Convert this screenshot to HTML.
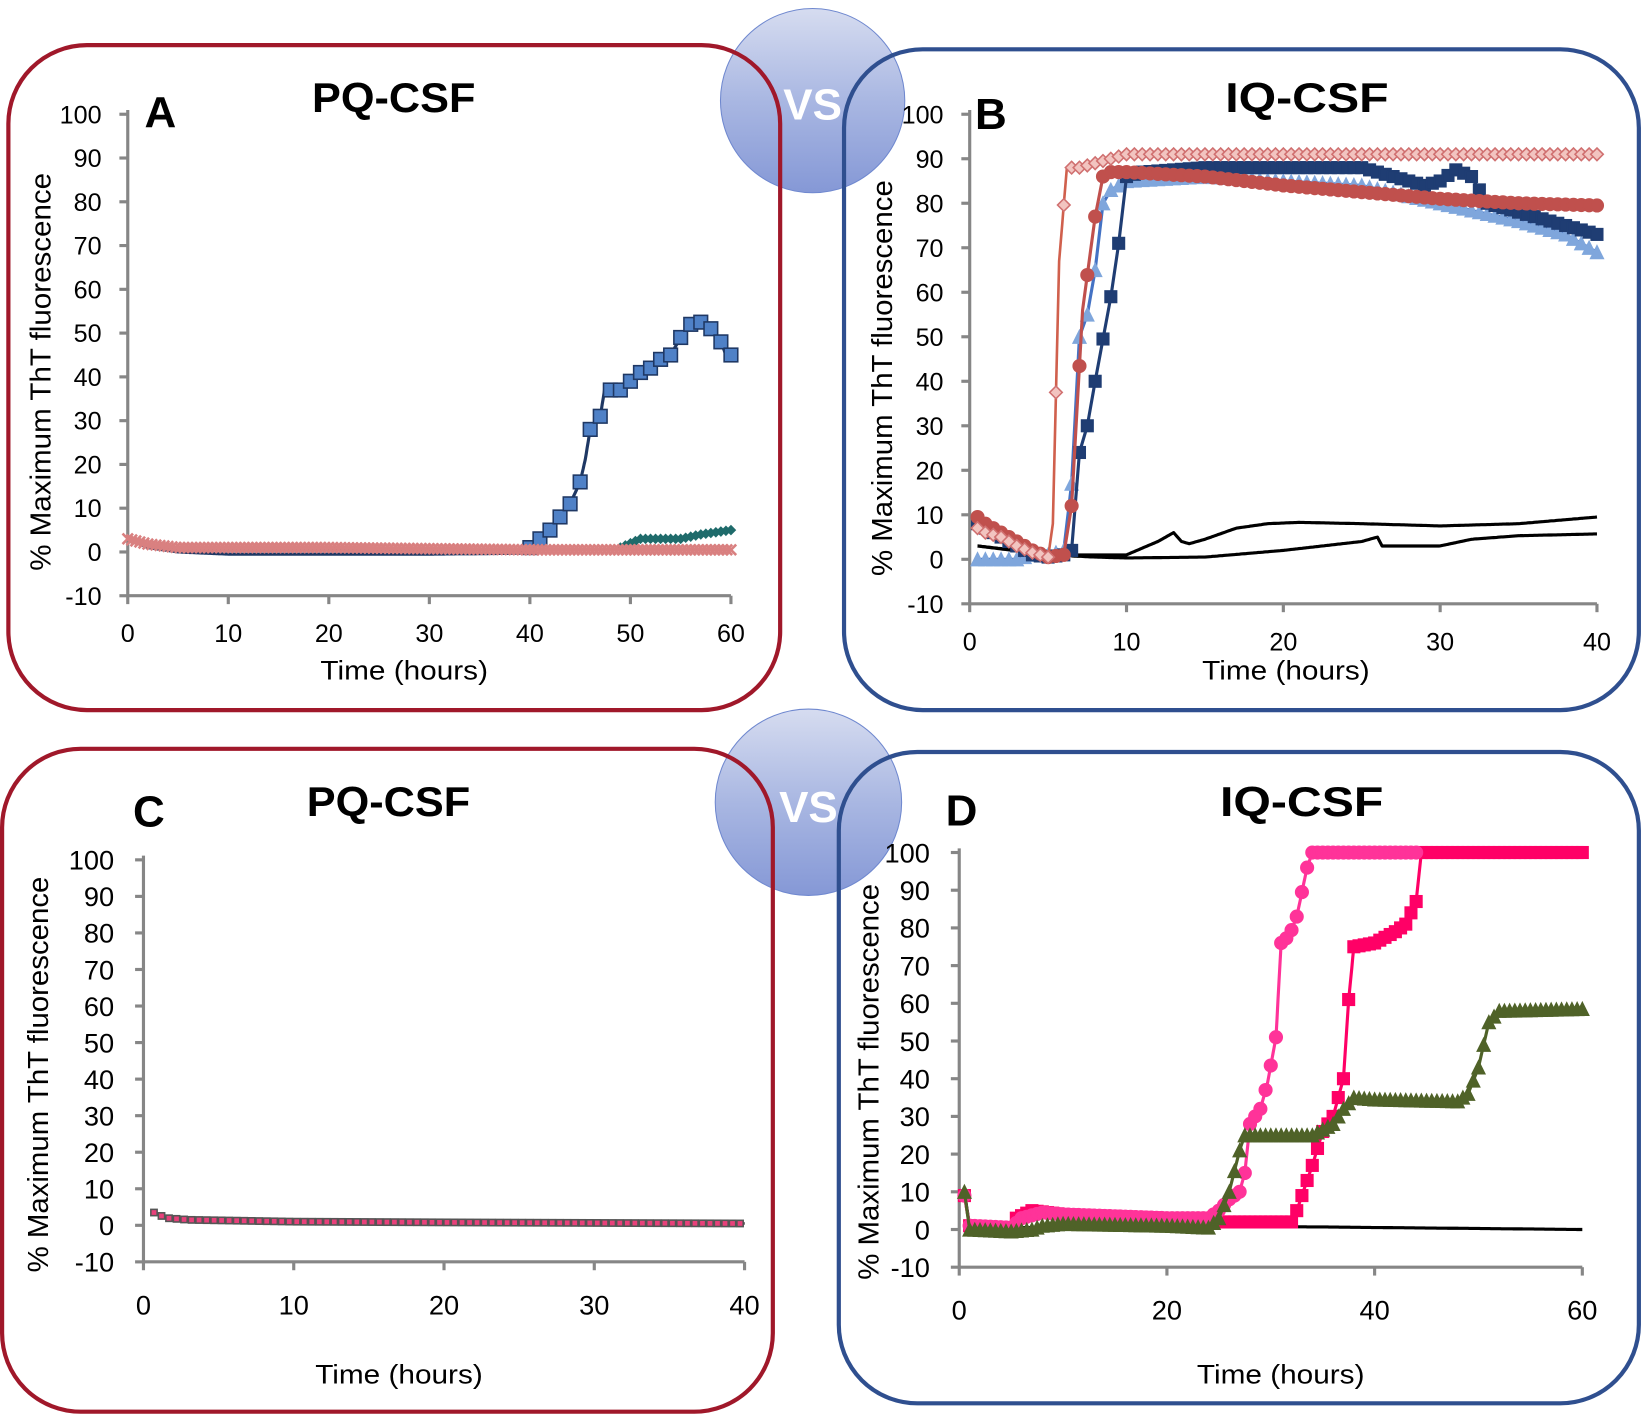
<!DOCTYPE html>
<html><head><meta charset="utf-8"><style>
html,body{margin:0;padding:0;background:#fff}
svg{display:block}
text{font-family:"Liberation Sans",sans-serif;fill:#000}
</style></head><body>
<svg id="s" width="1642" height="1416" viewBox="0 0 1568 1352" xmlns="http://www.w3.org/2000/svg">
<defs>
<linearGradient id="g" x1="0" y1="0" x2="0" y2="1">
<stop offset="0" stop-color="#d6dcf0"/><stop offset="0.5" stop-color="#a9b7e2"/><stop offset="1" stop-color="#8598d6"/></linearGradient>
</defs>
<circle cx="776" cy="96" r="88" fill="url(#g)" stroke="#6f88cf" stroke-width="1"/>
<text x="776" y="114" font-size="42" font-weight="bold" text-anchor="middle" style="fill:#fff">VS</text>
<circle cx="772" cy="766" r="89" fill="url(#g)" stroke="#6f88cf" stroke-width="1"/>
<text x="772" y="785" font-size="42" font-weight="bold" text-anchor="middle" style="fill:#fff">VS</text>
<rect x="8" y="43" width="737" height="635" rx="75" fill="none" stroke="#a0182a" stroke-width="4"/>
<rect x="806" y="47" width="759" height="631" rx="75" fill="none" stroke="#2f4f8f" stroke-width="4"/>
<rect x="2" y="715" width="736" height="633" rx="75" fill="none" stroke="#a0182a" stroke-width="4"/>
<rect x="801" y="718" width="764" height="622" rx="75" fill="none" stroke="#2f4f8f" stroke-width="4"/>
<g id="plots"></g>
</svg>
<script>
const NS="http://www.w3.org/2000/svg";
const root=document.getElementById('plots');
function el(t,a,txt){const e=document.createElementNS(NS,t);for(const k in a)e.setAttribute(k,a[k]);if(txt!==undefined)e.textContent=txt;root.appendChild(e);return e;}
function panel(p){
 const X=v=>p.x0+(v-p.xmin)/(p.xmax-p.xmin)*(p.x1-p.x0);
 const Y=v=>p.y0-(v)*(p.y0-p.y100)/100;
 p.X=X;p.Y=Y;
 el('line',{x1:p.x0,y1:p.y100-4,x2:p.x0,y2:Y(-10),stroke:'#868686','stroke-width':3});
 el('line',{x1:p.x0,y1:Y(-10),x2:p.x1,y2:Y(-10),stroke:'#868686','stroke-width':3});
 for(let v=-10;v<=100;v+=10){
  el('line',{x1:p.x0-8,y1:Y(v),x2:p.x0,y2:Y(v),stroke:'#868686','stroke-width':3});
  el('text',{x:p.x0-p.lg,y:Y(v)+p.fs*0.36,'font-size':p.fs,'text-anchor':'end'},v);
 }
 for(let v=p.xmin;v<=p.xmax;v+=p.xs){
  el('line',{x1:X(v),y1:Y(-10),x2:X(v),y2:Y(-10)+8,stroke:'#868686','stroke-width':3});
  el('text',{x:X(v),y:p.xly,'font-size':p.fs,'text-anchor':'middle'},v);
 }
 el('text',{x:p.tx-80,y:p.ty,'font-size':26,textLength:160,lengthAdjust:'spacingAndGlyphs'},'Time (hours)');
 el('text',{x:-p.yl/2,y:0,'font-size':27,textLength:p.yl,lengthAdjust:'spacingAndGlyphs',transform:`translate(${p.yx},${p.yy}) rotate(-90)`},'% Maximum ThT fluorescence');
 el('text',{x:p.lx,y:p.ly,'font-size':42,'font-weight':'bold'},p.L);
 el('text',{x:p.hx-78,y:p.hy,'font-size':40,'font-weight':'bold',textLength:156,lengthAdjust:'spacingAndGlyphs'},p.H);
}
function interp(pts,t){for(let i=0;i<pts.length-1;i++){if(t>=pts[i][0]&&t<=pts[i+1][0]){const f=(t-pts[i][0])/((pts[i+1][0]-pts[i][0])||1);return pts[i][1]+f*(pts[i+1][1]-pts[i][1]);}}return pts[pts.length-1][1];}
function series(p,pts,o){
 const st=o.step||0.5;let d='';
 const t0=pts[0][0],t1=pts[pts.length-1][0];
 for(let t=t0;t<=t1+1e-6;t+=0.1){d+=(d?'L':'M')+p.X(t).toFixed(1)+','+p.Y(interp(pts,t)).toFixed(1);}
 el('path',{d,fill:'none',stroke:o.line,'stroke-width':o.lw||3,'stroke-linejoin':'round'});
 if(!o.m)return;
 const s=o.sz||10;
 for(let t=o.ms!==undefined?o.ms:t0;t<=t1+1e-6;t+=st){
  const x=p.X(t),y=p.Y(interp(pts,t));
  const a={fill:o.fill,stroke:o.mstroke||o.fill,'stroke-width':o.msw||1.5};
  if(o.m=='sq'){a.x=x-s/2;a.y=y-s/2;a.width=s;a.height=s;el('rect',a);}
  else if(o.m=='ci'){a.cx=x;a.cy=y;a.r=s/2;el('circle',a);}
  else if(o.m=='tr'){a.points=`${x},${y-s/2} ${x-s/2},${y+s/2} ${x+s/2},${y+s/2}`;el('polygon',a);}
  else if(o.m=='di'){a.points=`${x},${y-s/2} ${x-s/2},${y} ${x},${y+s/2} ${x+s/2},${y}`;el('polygon',a);}
  else if(o.m=='x'){el('path',{d:`M${x-s/2},${y-s/2}L${x+s/2},${y+s/2}M${x-s/2},${y+s/2}L${x+s/2},${y-s/2}`,stroke:o.fill,'stroke-width':2.5});}
 }
}
// Panel A
const A={x0:122,x1:698,xmin:0,xmax:60,xs:10,y0:527,y100:109,fs:24,lg:25,xly:613,tx:386,ty:649,yx:48,yy:355,yl:380,lx:138,ly:121,L:'A',hx:376,hy:107,H:'PQ-CSF'};
panel(A);
series(A,[[0,3],[2,1],[5,0],[10,-0.5],[30,-0.5],[39,-0.3],[40,1],[41,3],[42,5],[43,8],[44,11],[45,16],[45.5,21],[46,28],[47,31],[47.5,38],[48,37],[49,37],[50,39],[51,41],[52,42],[53,44],[54,45],[54.5,47],[55,49],[56,52],[57,52.5],[58,51],[59,48],[59.5,45],[60,45]],{line:'#1f3864',m:'sq',fill:'#4f81c7',mstroke:'#1f3864',sz:13,ms:40,step:1});
series(A,[[0,3],[3,1],[10,0.3],[48,0.5],[49,1],[50,2],[51,3],[55,3],[57,4],[60,5]],{line:'#1f6b6b',lw:2,m:'di',fill:'#1f6b6b',sz:8,ms:49,step:0.5});
series(A,[[0,3],[2,1.8],[5,1],[20,1],[40,0.5],[60,0.5]],{line:'#d67070',lw:2,m:'x',fill:'#d98080',sz:10,step:0.4});
// Panel B
const B={x0:926,x1:1525,xmin:0,xmax:40,xs:10,y0:534,y100:109,fs:24,lg:25,xly:621,tx:1228,ty:649,yx:852,yy:361,yl:378,lx:931,ly:123,L:'B',hx:1248,hy:107,H:'IQ-CSF'};
panel(B);
series(B,[[0.5,3],[3,2],[5,1],[8,1],[10,1],[12,4],[13,6],[13.5,4],[14,3.5],[15,4.5],[17,7],[19,8],[21,8.3],[25,8],[30,7.5],[35,8],[40,9.5]],{line:'#000',lw:3});
series(B,[[0.5,3],[5,1],[8,0.5],[10,0.3],[15,0.5],[20,2],[25,4],[26,5],[26.3,3],[30,3],[32,4.5],[35,5.3],[40,5.7]],{line:'#000',lw:3});
series(B,[[0.5,0],[3,0],[4,1],[5,1],[6,2],[6.5,17],[7,50],[7.5,55],[8,65],[8.5,80],[9,83],[10,85],[15,86],[20,85],[25,84],[30,80],[35,76],[38,73],[39,71],[40,69]],{line:'#4472c4',m:'tr',fill:'#7fa6dc',mstroke:'#7fa6dc',sz:12});
series(B,[[0.5,8],[2,5],[4,1],[5,0.5],[6,1],[6.5,2],[7,24],[7.5,30],[8,40],[9,59],[9.5,71],[10,86],[11,87],[15,88],[20,88],[25,88],[27,86],[29,84],[30,85],[31,87.5],[32,86],[33,80],[35,78],[37,76],[39,74],[40,73]],{line:'#1f3d73',m:'sq',fill:'#1f3d73',mstroke:'#1f3d73',sz:11});
series(B,[[0.5,9.5],[1,8],[2,6],[3,4],[4,2],[5,0.5],[6,1],[6.5,12],[7.2,56],[8,77],[8.5,86],[9,87],[10,87],[15,86],[20,84],[25,82.5],[30,81],[35,80],[40,79.5]],{line:'#c0504d',m:'ci',fill:'#c0504d',sz:12});
series(B,[[0.5,7],[1,6],[2,5],[3,3],[4,1.5],[5,0.5],[5.3,8],[5.7,67],[6.2,88],[7,88],[8,89],[10,91],[12,91],[40,91]],{line:'#d0604d',lw:2.5,m:'di',fill:'#f2c4c0',mstroke:'#d07070',sz:12});
// Panel C
const C={x0:137,x1:711,xmin:0,xmax:40,xs:10,y0:1170,y100:821,fs:26,lg:28,xly:1255,tx:381,ty:1321,yx:46,yy:1026,yl:378,lx:127,ly:789,L:'C',hx:371,hy:779,H:'PQ-CSF'};
panel(C);
series(C,[[0.7,3.5],[1.5,2],[3,1.5],[10,1],[20,0.8],[40,0.5]],{line:'#000',lw:2.5,m:'sq',fill:'#e8407a',mstroke:'#555',sz:6,step:0.5});
// Panel D
const D={x0:916,x1:1511,xmin:0,xmax:60,xs:20,y0:1174,y100:814,fs:26,lg:28,xly:1260,tx:1223,ty:1321,yx:839,yy:1033,yl:378,lx:903,ly:788,L:'D',hx:1243,hy:779,H:'IQ-CSF'};
panel(D);
series(D,[[0.5,10],[1,1],[5,0.5],[30,0.8],[60,0]],{line:'#000',lw:3});
series(D,[[0.5,9],[1,1],[5,0],[5.5,3],[7,5],[10,4],[20,3],[24,3],[25,2],[30,2],[32,2],[32.5,5],[33,9],[34,17],[35,26],[36,30],[37,40],[37.5,61],[38,75],[40,76],[42,79],[43,81],[44,87],[44.5,100],[60,100]],{line:'#ff0066',m:'sq',fill:'#ff0066',sz:11});
series(D,[[0.5,9],[1,1],[5,0.5],[6,3],[8,4.5],[10,4],[20,3],[24,3],[25,5],[26,8],[27,10],[27.5,15],[28,28],[29,32],[29.7,39],[30.5,51],[31,76],[31.8,78],[32.5,83],[33.5,96],[34,100],[44,100]],{line:'#ff3399',m:'ci',fill:'#ff3399',sz:12});
series(D,[[0.5,10],[1,0],[5,-0.5],[7,0],[8,1],[10,1.5],[20,1],[24,0.5],[25,3],[26,10],[27,21],[27.5,25],[30,25],[34,25],[36,28],[37,32],[38,35],[40,34.5],[48,34],[49,36],[50,43],[51,55],[52,58],[60,58.5]],{line:'#4f6228',m:'tr',fill:'#4f6228',sz:12});
</script>
</body></html>
